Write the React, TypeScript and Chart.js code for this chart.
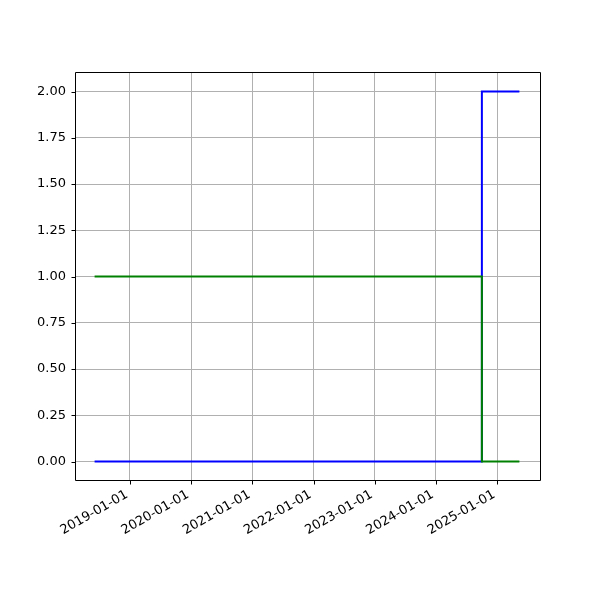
import { useEffect, useRef } from "react";
import { Chart, registerables } from "chart.js";

Chart.register(...registerables);

// Data
const dates = ["2018-06-04", "2024-10-02", "2025-05-14"];
const blueValues = [0, 2, 2];
const greenValues = [1, 0, 0];
const xTickYears = [2019, 2020, 2021, 2022, 2023, 2024, 2025];
const yTickValues = [0, 0.25, 0.5, 0.75, 1.0, 1.25, 1.5, 1.75, 2.0];
const xRange = ["2018-02-07", "2025-09-14"];
const yRange = [-0.1, 2.1];

const toMs = (d: string) => Date.parse(d + "T00:00:00Z");
const fmtDate = (v: number) => new Date(v).toISOString().slice(0, 10);

const framePlugin = {
  id: "frame",
  afterDraw(chart: any) {
    const { ctx, chartArea } = chart;
    const { left, right, top, bottom } = chartArea;
    ctx.save();
    ctx.strokeStyle = "#000000";
    ctx.lineWidth = 1;
    ctx.beginPath();
    ctx.rect(Math.round(left) + 0.5, Math.round(top) - 0.5, Math.round(right - left), Math.round(bottom - top) + 1);
    ctx.stroke();
    const xs = chart.scales.x;
    const ys = chart.scales.y;
    ctx.beginPath();
    for (const t of xs.ticks) {
      const px = Math.round(xs.getPixelForValue(t.value)) + 0.5;
      ctx.moveTo(px, Math.round(bottom) + 0.5);
      ctx.lineTo(px, Math.round(bottom) + 4.5);
    }
    for (const t of ys.ticks) {
      const py = Math.round(ys.getPixelForValue(t.value)) + 0.5;
      ctx.moveTo(Math.round(left) + 0.5, py);
      ctx.lineTo(Math.round(left) - 3.5, py);
    }
    ctx.stroke();
    ctx.restore();
  },
};

export default function App() {
  const ref = useRef<HTMLCanvasElement | null>(null);
  useEffect(() => {
    if (!ref.current) return;
    const xs = dates.map(toMs);
    const chart = new Chart(ref.current, {
      type: "line",
      data: {
        datasets: [
          {
            label: "green",
            data: xs.map((x, i) => ({ x, y: greenValues[i] })),
            borderColor: "#008000",
            borderWidth: 2,
            pointRadius: 0,
            stepped: "before",
            fill: false,
            order: 0,
          },
          {
            label: "blue",
            data: xs.map((x, i) => ({ x, y: blueValues[i] })),
            borderColor: "#0000ff",
            borderWidth: 2,
            pointRadius: 0,
            stepped: "before",
            fill: false,
            order: 1,
          },
        ],
      },
      options: {
        animation: false,
        responsive: false,
        devicePixelRatio: 1,
        layout: { padding: { top: 73, right: 60, left: 0, bottom: 0 } },
        plugins: { legend: { display: false }, tooltip: { enabled: false } },
        scales: {
          x: {
            type: "linear",
            min: toMs(xRange[0]),
            max: toMs(xRange[1]),
            afterBuildTicks: (scale: any) => {
              scale.ticks = xTickYears.map((y) => ({ value: Date.UTC(y, 0, 1) }));
            },
            afterFit: (scale: any) => {
              scale.height = 120;
            },
            grid: { color: "#b0b0b0", lineWidth: 1, drawTicks: false },
            border: { display: false },
            ticks: {
              autoSkip: false,
              maxRotation: 30,
              minRotation: 30,
              padding: 7,
              labelOffset: -3,
              color: "#000000",
              font: { family: "DejaVu Sans", size: 13 },
              callback: (v: any) => fmtDate(Number(v)),
            },
          },
          y: {
            type: "linear",
            min: yRange[0],
            max: yRange[1],
            afterBuildTicks: (scale: any) => {
              scale.ticks = yTickValues.map((v) => ({ value: v }));
            },
            afterFit: (scale: any) => {
              scale.width = 75;
            },
            grid: { color: "#b0b0b0", lineWidth: 1, drawTicks: false },
            border: { display: false },
            ticks: {
              padding: 9,
              color: "#000000",
              font: { family: "DejaVu Sans", size: 13 },
              callback: (v: any) => Number(v).toFixed(2),
            },
          },
        },
      },
      plugins: [framePlugin],
    });
    return () => chart.destroy();
  }, []);
  return (
    <div style={{ position: "absolute", left: 0, top: 0, width: 600, height: 600, background: "#ffffff" }}>
      <canvas ref={ref} width={600} height={600} style={{ width: 600, height: 600 }} />
    </div>
  );
}
